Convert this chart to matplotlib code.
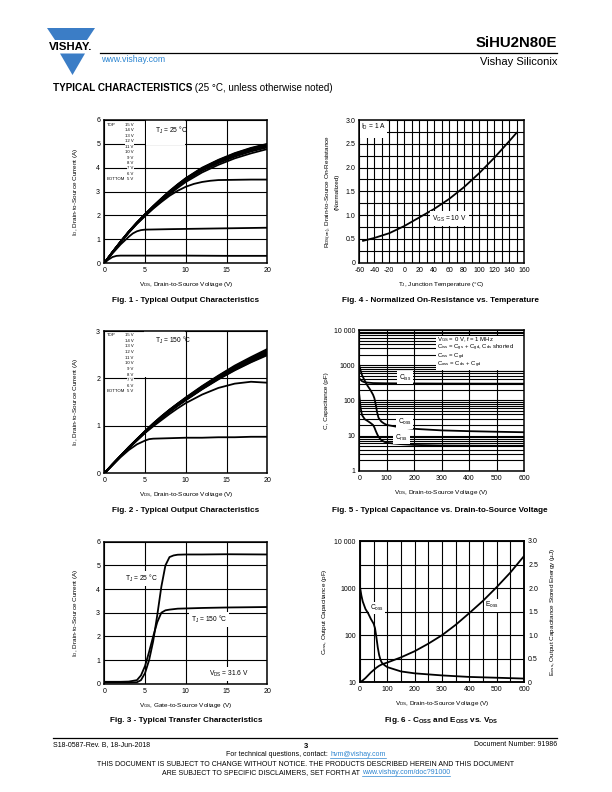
import matplotlib
matplotlib.use('Agg')
import matplotlib.pyplot as plt
from matplotlib.patches import Polygon, Rectangle
from matplotlib.ticker import FixedLocator, NullFormatter

plt.rcParams['font.family'] = ['Liberation Sans', 'DejaVu Sans']
plt.rcParams['mathtext.default'] = 'regular'
plt.rcParams['axes.unicode_minus'] = False

# ---------------- data ----------------
# Fig. 1 - output characteristics, TJ = 25 C
vds_out = [0, 1, 2, 3, 4, 5, 6, 7, 8, 9, 10, 12, 14, 16, 18, 20]
id25_15v = [0, .46, .90, 1.32, 1.70, 2.05, 2.39, 2.71, 3.02, 3.30, 3.56, 4.00, 4.33, 4.61, 4.83, 5.00]
id25_14v = [0, .46, .90, 1.32, 1.70, 2.05, 2.38, 2.70, 3.01, 3.29, 3.55, 3.98, 4.31, 4.59, 4.81, 4.98]
id25_13v = [0, .46, .89, 1.31, 1.69, 2.04, 2.37, 2.69, 2.99, 3.27, 3.53, 3.96, 4.29, 4.57, 4.79, 4.96]
id25_12v = [0, .45, .89, 1.31, 1.69, 2.04, 2.37, 2.68, 2.98, 3.26, 3.52, 3.94, 4.27, 4.55, 4.77, 4.94]
id25_11v = [0, .45, .89, 1.30, 1.68, 2.03, 2.36, 2.67, 2.97, 3.25, 3.51, 3.93, 4.26, 4.53, 4.75, 4.92]
id25_10v = [0, .45, .88, 1.30, 1.68, 2.03, 2.35, 2.66, 2.96, 3.23, 3.49, 3.91, 4.24, 4.51, 4.73, 4.90]
id25_9v = [0, .45, .88, 1.29, 1.67, 2.01, 2.33, 2.64, 2.93, 3.20, 3.46, 3.87, 4.19, 4.46, 4.68, 4.85]
id25_8v = [0, .44, .87, 1.28, 1.65, 1.98, 2.30, 2.60, 2.88, 3.15, 3.40, 3.80, 4.12, 4.39, 4.60, 4.78]
vds25_7v = [0, 1, 2, 3, 4, 5, 6, 7, 8, 9, 10, 11, 12, 13, 14, 16, 18, 20]
id25_7v = [0, .44, .87, 1.27, 1.64, 1.97, 2.28, 2.56, 2.82, 3.03, 3.20, 3.32, 3.40, 3.45, 3.48, 3.49, 3.50, 3.50]
vds25_6v = [0, 1, 2, 3, 3.5, 4, 4.5, 5, 8, 12, 16, 20]
id25_6v = [0, .40, .78, 1.10, 1.24, 1.33, 1.38, 1.40, 1.42, 1.44, 1.46, 1.48]
vds25_5v = [0, 0.5, 1, 1.5, 2, 5, 10, 15, 20]
id25_5v = [0, .14, .25, .30, .31, .31, .31, .30, .30]
vgs_labels = ['15 V', '14 V', '13 V', '12 V', '11 V', '10 V', '9 V', '8 V', '7 V', '6 V', '5 V']

# Fig. 2 - output characteristics, TJ = 150 C
id150_15v = [0, .19, .37, .55, .72, .89, 1.05, 1.20, 1.34, 1.47, 1.60, 1.84, 2.06, 2.27, 2.45, 2.62]
id150_14v = [0, .19, .37, .55, .72, .89, 1.05, 1.20, 1.34, 1.47, 1.59, 1.83, 2.05, 2.25, 2.43, 2.60]
id150_13v = [0, .19, .37, .55, .72, .88, 1.04, 1.19, 1.33, 1.46, 1.58, 1.82, 2.04, 2.24, 2.42, 2.58]
id150_12v = [0, .19, .37, .54, .71, .88, 1.04, 1.19, 1.33, 1.46, 1.58, 1.81, 2.03, 2.23, 2.41, 2.57]
id150_11v = [0, .18, .36, .54, .71, .87, 1.03, 1.18, 1.32, 1.45, 1.57, 1.80, 2.02, 2.22, 2.39, 2.55]
id150_10v = [0, .18, .36, .54, .71, .87, 1.03, 1.17, 1.31, 1.44, 1.56, 1.79, 2.01, 2.20, 2.38, 2.54]
id150_9v = [0, .18, .36, .54, .70, .87, 1.02, 1.17, 1.31, 1.43, 1.55, 1.78, 2.00, 2.19, 2.36, 2.52]
id150_8v = [0, .18, .36, .53, .70, .86, 1.02, 1.16, 1.30, 1.43, 1.55, 1.78, 1.99, 2.18, 2.35, 2.51]
id150_7v = [0, .18, .36, .53, .70, .86, 1.01, 1.15, 1.29, 1.42, 1.54, 1.77, 1.98, 2.17, 2.34, 2.49]
id150_6v = [0, .18, .36, .53, .69, .85, .99, 1.12, 1.25, 1.37, 1.48, 1.66, 1.80, 1.89, 1.93, 1.91]
vds150_5v = [0, 1, 2, 3, 4, 5, 5.5, 6, 8, 10, 12, 14, 16, 18, 20]
id150_5v = [0, .17, .34, .49, .61, .69, .72, .73, .74, .75, .75, .76, .76, .77, .77]

# Fig. 3 - transfer characteristics
vgs_tr = [0, 2, 3, 4, 4.5, 5, 5.5, 6, 6.5, 7, 7.5, 8, 8.5, 9, 10, 12, 15, 20]
id_tr_25 = [0.05, 0.05, 0.05, 0.06, 0.15, 0.45, 1.0, 1.8, 2.9, 4.1, 5.0, 5.35, 5.42, 5.45, 5.46, 5.46, 5.47, 5.46]
id_tr_150 = [0.08, 0.08, 0.09, 0.15, 0.35, 0.75, 1.35, 2.0, 2.6, 3.0, 3.1, 3.13, 3.15, 3.17, 3.18, 3.20, 3.22, 3.24]

# Fig. 4 - normalized on-resistance
tj = [-55, -40, -20, 0, 20, 40, 60, 80, 100, 120, 140, 150]
rds_norm = [0.46, 0.52, 0.62, 0.77, 0.95, 1.13, 1.34, 1.59, 1.88, 2.20, 2.55, 2.73]

# Fig. 5 - capacitance
vds_cap = [0, 5, 10, 20, 30, 40, 50, 55, 60, 65, 70, 80, 90, 100, 150, 200, 300, 400, 500, 600]
coss5 = [1000, 700, 520, 360, 260, 200, 145, 115, 75, 45, 32, 25, 22, 20, 17, 15.5, 14, 13.3, 12.8, 12.4]
crss5 = [140, 60, 38, 29, 26, 23, 20, 17, 13.5, 11, 9.2, 7.4, 6.7, 6.2, 5.7, 5.4, 5.2, 5.15, 5.1, 5.1]
vds_ciss = [0, 10, 20, 50, 100, 200, 300, 400, 500, 600]
ciss5 = [420, 350, 325, 310, 305, 302, 300, 299, 298, 297]

# Fig. 6 - Coss and Eoss
vds_coss6 = [0, 5, 10, 20, 30, 40, 50, 55, 60, 65, 70, 75, 80, 90, 100, 150, 200, 300, 400, 500, 600]
coss6 = [1050, 700, 520, 360, 290, 220, 175, 140, 90, 55, 38, 30, 26, 23, 21, 17, 15.5, 14, 13, 12.5, 12]
vds_eoss = [0, 10, 20, 30, 40, 50, 60, 70, 80, 100, 150, 200, 250, 300, 350, 400, 450, 500, 550, 600]
eoss = [0, 0.04, 0.09, 0.15, 0.21, 0.26, 0.31, 0.35, 0.38, 0.42, 0.53, 0.66, 0.82, 1.0, 1.22, 1.47, 1.73, 2.02, 2.33, 2.68]

# ---------------- figure ----------------
W, H = 612, 792
fig = plt.figure(figsize=(6.12, 7.92), dpi=100)
page = fig.add_axes([0, 0, 1, 1], zorder=-5)
page.set_xlim(0, W)
page.set_ylim(H, 0)
page.axis('off')

BLUE = '#3b7dc6'
LINK = '#2e86d1'
TICK_FS = 5
LAB_FS = 4.6
ANN_FS = 4.8
CAP_FS = 5.9
LW = 1.3


def box(x0, y0, x1, y1):
    return [x0 / W, 1 - y1 / H, (x1 - x0) / W, (y1 - y0) / H]


def style(ax):
    for s in ax.spines.values():
        s.set_linewidth(1.1)
        s.set_color('black')
    ax.tick_params(which='both', length=0, labelsize=TICK_FS, pad=3)
    ax.set_axisbelow(True)


def grid(ax, which='both'):
    ax.grid(which=which, color='black', linewidth=0.8)


def ann(ax, x, y, s, ha='left', fs=ANN_FS, pad=1.2, transform=None):
    kw = {}
    if transform is not None:
        kw['transform'] = transform
    ax.text(x, y, s, ha=ha, va='center', fontsize=fs, zorder=6,
            bbox=dict(facecolor='white', edgecolor='none', pad=pad), **kw)


def out_legend(ax, ytop, ybot):
    n = len(vgs_labels)
    step = (ytop - ybot) / (n - 1)
    for i, lab in enumerate(vgs_labels):
        y = ytop - i * step
        ax.text(0.18, y, lab, transform=ax.transAxes, fontsize=3.1, ha='right', va='center', zorder=6,
                bbox=dict(facecolor='white', edgecolor='none', pad=0.2))
    ax.text(0.015, ytop, 'TOP', transform=ax.transAxes, fontsize=3.1, va='center', zorder=6)
    ax.text(0.015, ybot, 'BOTTOM', transform=ax.transAxes, fontsize=3.1, va='center', zorder=6,
            bbox=dict(facecolor='white', edgecolor='none', pad=0.2))


# ---- Fig 1 ----
ax1 = fig.add_axes(box(104.3, 120, 267.3, 263))
style(ax1)
ax1.set_xlim(0, 20)
ax1.set_ylim(0, 6)
ax1.set_xticks([0, 5, 10, 15, 20])
ax1.set_yticks([0, 1, 2, 3, 4, 5, 6])
grid(ax1, 'major')
for ys in [id25_15v, id25_14v, id25_13v, id25_12v, id25_11v, id25_10v, id25_9v, id25_8v]:
    ax1.plot(vds_out, ys, color='black', lw=LW, zorder=4)
ax1.plot(vds25_7v, id25_7v, color='black', lw=LW, zorder=4)
ax1.plot(vds25_6v, id25_6v, color='black', lw=LW, zorder=4)
ax1.plot(vds25_5v, id25_5v, color='black', lw=LW, zorder=4)
ax1.add_patch(Rectangle((5.12, 4.96), 4.76, 1.04, facecolor='white', edgecolor='none', zorder=2))
ax1.text(6.2, 5.55, 'T$_J$ = 25 °C', fontsize=ANN_FS, va='center', zorder=6)
ax1.set_xlabel('V$_{DS}$, Drain-to-Source Voltage (V)', fontsize=LAB_FS)
ax1.set_ylabel('I$_D$, Drain-to-Source Current (A)', fontsize=LAB_FS)
ax1.xaxis.set_label_coords(0.5, -0.12)
ax1.yaxis.set_label_coords(-0.15, 0.5)
out_legend(ax1, 0.965, 0.585)

# ---- Fig 2 ----
ax2 = fig.add_axes(box(104.3, 331, 267.3, 473.3))
style(ax2)
ax2.set_xlim(0, 20)
ax2.set_ylim(0, 3)
ax2.set_xticks([0, 5, 10, 15, 20])
ax2.set_yticks([0, 1, 2, 3])
grid(ax2, 'major')
for ys in [id150_15v, id150_14v, id150_13v, id150_12v, id150_11v, id150_10v, id150_9v, id150_8v,
           id150_7v, id150_6v]:
    ax2.plot(vds_out, ys, color='black', lw=LW, zorder=4)
ax2.plot(vds150_5v, id150_5v, color='black', lw=LW, zorder=4)
ax2.add_patch(Rectangle((4.9, 2.03), 4.98, 0.97, facecolor='white', edgecolor='none', zorder=2))
ax2.text(6.2, 2.8, 'T$_J$ = 150 °C', fontsize=ANN_FS, va='center', zorder=6)
ax2.set_xlabel('V$_{DS}$, Drain-to-Source Voltage (V)', fontsize=LAB_FS)
ax2.set_ylabel('I$_D$, Drain-to-Source Current (A)', fontsize=LAB_FS)
ax2.xaxis.set_label_coords(0.5, -0.12)
ax2.yaxis.set_label_coords(-0.15, 0.5)
out_legend(ax2, 0.972, 0.575)

# ---- Fig 3 ----
ax3 = fig.add_axes(box(104.3, 541.7, 267.3, 683.7))
style(ax3)
ax3.set_xlim(0, 20)
ax3.set_ylim(0, 6)
ax3.set_xticks([0, 5, 10, 15, 20])
ax3.set_yticks([0, 1, 2, 3, 4, 5, 6])
grid(ax3, 'major')
ax3.plot(vgs_tr, id_tr_25, color='black', lw=LW, zorder=4)
ax3.plot(vgs_tr, id_tr_150, color='black', lw=LW, zorder=4)
ann(ax3, 2.6, 4.45, 'T$_J$ = 25 °C')
ann(ax3, 10.6, 2.72, 'T$_J$ = 150 °C')
ann(ax3, 12.8, 0.42, 'V$_{DS}$ = 31.6 V')
ax3.set_xlabel('V$_{GS}$, Gate-to-Source Voltage (V)', fontsize=LAB_FS)
ax3.set_ylabel('I$_D$, Drain-to-Source Current (A)', fontsize=LAB_FS)
ax3.xaxis.set_label_coords(0.5, -0.12)
ax3.yaxis.set_label_coords(-0.15, 0.5)

# ---- Fig 4 ----
ax4 = fig.add_axes(box(359.3, 120, 524, 262.7))
style(ax4)
ax4.set_xlim(-60, 160)
ax4.set_ylim(0, 3.0)
ax4.set_xticks(list(range(-60, 161, 20)))
ax4.xaxis.set_minor_locator(FixedLocator(list(range(-50, 160, 20))))
ax4.set_yticks([0, 0.5, 1.0, 1.5, 2.0, 2.5, 3.0])
ax4.set_yticklabels(['0', '0.5', '1.0', '1.5', '2.0', '2.5', '3.0'])
ax4.yaxis.set_minor_locator(FixedLocator([0.25, 0.75, 1.25, 1.75, 2.25, 2.75]))
grid(ax4)
ax4.plot(tj, rds_norm, color='black', lw=LW, zorder=4)
ax4.add_patch(Rectangle((-59.5, 2.62), 37, 0.38, facecolor='white', edgecolor='none', zorder=2))
ax4.text(-57.5, 2.85, 'I$_D$ = 1 A', fontsize=ANN_FS, va='center', zorder=6)
ann(ax4, 37, 0.93, 'V$_{GS}$ = 10 V', pad=1.5)
ax4.set_xlabel('T$_J$, Junction Temperature (°C)', fontsize=LAB_FS)
ax4.set_ylabel('R$_{DS(on)}$, Drain-to-Source On-Resistance\n(Normalized)', fontsize=LAB_FS,
               linespacing=1.1)
ax4.xaxis.set_label_coords(0.5, -0.12)
ax4.yaxis.set_label_coords(-0.12, 0.5)

# ---- Fig 5 ----
ax5 = fig.add_axes(box(359.3, 330, 524, 470.7))
style(ax5)
ax5.set_yscale('log')
ax5.set_xlim(0, 600)
ax5.set_ylim(1, 10000)
ax5.set_xticks([0, 100, 200, 300, 400, 500, 600])
ax5.set_yticks([1, 10, 100, 1000, 10000])
ax5.set_yticklabels(['1', '10', '100', '1000', '10 000'])
ax5.yaxis.set_minor_locator(FixedLocator([m * 10 ** d for d in range(4) for m in range(2, 10)]))
ax5.yaxis.set_minor_formatter(NullFormatter())
grid(ax5)
ax5.plot(vds_ciss, ciss5, color='black', lw=LW, zorder=4)
ax5.plot(vds_cap, coss5, color='black', lw=LW, zorder=4)
ax5.plot(vds_cap, crss5, color='black', lw=LW, zorder=4)
ax5.add_patch(Rectangle((0.466, 0.715), 0.534, 0.245, transform=ax5.transAxes,
                        facecolor='white', edgecolor='none', zorder=2))
for yy, s in zip([0.935, 0.873, 0.811, 0.749],
                 ['V$_{GS}$ = 0 V, f = 1 MHz',
                  'C$_{iss}$ = C$_{gs}$ + C$_{gd}$, C$_{ds}$ shorted',
                  'C$_{rss}$ = C$_{gd}$',
                  'C$_{oss}$ = C$_{ds}$ + C$_{gd}$']):
    ax5.text(0.474, yy, s, transform=ax5.transAxes, fontsize=4.3, va='center', zorder=6)
ann(ax5, 143, 440, 'C$_{iss}$')
ann(ax5, 140, 24.5, 'C$_{oss}$')
ann(ax5, 130, 8.7, 'C$_{rss}$')
ax5.set_xlabel('V$_{DS}$, Drain-to-Source Voltage (V)', fontsize=LAB_FS)
ax5.set_ylabel('C, Capacitance (pF)', fontsize=LAB_FS)
ax5.xaxis.set_label_coords(0.5, -0.12)
ax5.yaxis.set_label_coords(-0.185, 0.5)

# ---- Fig 6 ----
ax6 = fig.add_axes(box(360, 541, 524, 682.3))
style(ax6)
ax6.set_yscale('log')
ax6.set_xlim(0, 600)
ax6.set_ylim(10, 10000)
ax6.set_xticks([0, 100, 200, 300, 400, 500, 600])
ax6.xaxis.set_minor_locator(FixedLocator([50, 150, 250, 350, 450, 550]))
ax6.set_yticks([10, 100, 1000, 10000])
ax6.set_yticklabels(['10', '100', '1000', '10 000'])
ax6.yaxis.set_minor_locator(FixedLocator([]))
ax6.grid(which='both', axis='x', color='black', linewidth=0.8)
ax6b = ax6.twinx()
style(ax6b)
ax6b.set_ylim(0, 3.0)
ax6b.set_yticks([0, 0.5, 1.0, 1.5, 2.0, 2.5, 3.0])
ax6b.set_yticklabels(['0', '0.5', '1.0', '1.5', '2.0', '2.5', '3.0'])
ax6b.grid(which='major', axis='y', color='black', linewidth=0.8)
ann(ax6b, 38, 1.58, 'C$_{oss}$', pad=0.8)
ann(ax6b, 458, 1.64, 'E$_{oss}$', pad=1.0)
ax6b.plot(vds_eoss, eoss, color='black', lw=LW, zorder=7)
# Coss drawn in the log axis' data coordinates, layered above the twin's grid
ax6b.plot(vds_coss6, coss6, color='black', lw=LW, zorder=7, transform=ax6.transData)
ax6.set_xlabel('V$_{DS}$, Drain-to-Source Voltage (V)', fontsize=LAB_FS)
ax6.set_ylabel('C$_{oss}$, Output Capacitance (pF)', fontsize=LAB_FS)
ax6b.set_ylabel('E$_{oss}$, Output Capacitance Stored Energy (µJ)', fontsize=LAB_FS)
ax6.xaxis.set_label_coords(0.5, -0.12)
ax6.yaxis.set_label_coords(-0.19, 0.5)
ax6b.yaxis.set_label_coords(1.145, 0.5)

# ---- captions ----
cap_kw = dict(fontsize=CAP_FS, fontweight='bold', ha='center', va='center')
page.text(185.8, 300, 'Fig. 1 - Typical Output Characteristics', **cap_kw)
page.text(440, 300, 'Fig. 4 - Normalized On-Resistance vs. Temperature', **cap_kw)
page.text(185.8, 510, 'Fig. 2 - Typical Output Characteristics', **cap_kw)
page.text(440, 510, 'Fig. 5 - Typical Capacitance vs. Drain-to-Source Voltage', **cap_kw)
page.text(185.8, 721, 'Fig. 3 - Typical Transfer Characteristics', **cap_kw)
page.text(441, 720, 'Fig. 6 - C$_{OSS}$ and E$_{OSS}$ vs. V$_{DS}$', **cap_kw)

# ---- header ----
page.add_patch(Polygon([[47, 28], [95, 28], [87, 40], [55, 40]], closed=True, facecolor=BLUE, edgecolor='none'))
page.add_patch(Polygon([[60, 53.5], [85, 53.5], [72.5, 75]], closed=True, facecolor=BLUE, edgecolor='none'))
page.text(71, 47, 'VISHAY.', fontsize=8.2, fontweight='bold', ha='center', va='center')
page.text(557, 43, 'SiHU2N80E', fontsize=10.8, fontweight='bold', ha='right', va='center')
page.plot([100, 557], [52.5, 52.5], color='black', lw=0.9)
page.text(101, 59, 'www.vishay.com', fontsize=6.3, color=LINK, ha='left', va='center')
page.text(557, 62, 'Vishay Siliconix', fontsize=8, ha='right', va='center')

renderer = fig.canvas.get_renderer()


def seq_text(x, y, parts, ha='left', fs=5.0):
    objs = []
    for t, c, wt, ul in parts:
        objs.append(page.text(0, y, t, color=c, fontweight=wt, fontsize=fs, ha='left', va='center'))
    widths = [o.get_window_extent(renderer).width for o in objs]
    total = sum(widths)
    x0 = x - total / 2 if ha == 'center' else (x - total if ha == 'right' else x)
    for o, w, (t, c, wt, ul) in zip(objs, widths, parts):
        o.set_x(x0)
        if ul:
            page.plot([x0, x0 + w], [y + fs * 0.62, y + fs * 0.62], color=c, lw=0.5)
        x0 += w


seq_text(53, 88, [('TYPICAL CHARACTERISTICS', 'black', 'bold', False),
                  (' (25 °C, unless otherwise noted)', 'black', 'normal', False)], fs=7.1)

# ---- footer ----
page.plot([53, 557], [738, 738], color='black', lw=0.9)
page.text(53, 745, 'S18-0587-Rev. B, 18-Jun-2018', fontsize=5, ha='left', va='center')
page.text(306, 746, '3', fontsize=5.5, fontweight='bold', ha='center', va='center')
page.text(557, 745, 'Document Number: 91986', fontsize=5, ha='right', va='center')
seq_text(306, 755, [('For technical questions, contact: ', 'black', 'normal', False),
                    ('hvm@vishay.com', LINK, 'normal', True)], ha='center', fs=5)
page.text(306, 765, 'THIS DOCUMENT IS SUBJECT TO CHANGE WITHOUT NOTICE. THE PRODUCTS DESCRIBED HEREIN AND THIS DOCUMENT',
          fontsize=5, ha='center', va='center')
seq_text(306, 773, [('ARE SUBJECT TO SPECIFIC DISCLAIMERS, SET FORTH AT ', 'black', 'normal', False),
                    ('www.vishay.com/doc?91000', LINK, 'normal', True)], ha='center', fs=5)

fig.savefig('out.png', dpi=100)
